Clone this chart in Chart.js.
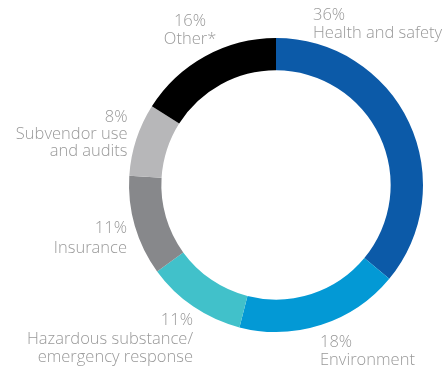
<!DOCTYPE html>
<html>
<head>
<meta charset="utf-8">
<script src="https://cdn.jsdelivr.net/npm/chart.js@4"></script>
<style>
  html, body { margin: 0; padding: 0; background: #fff; }
  #wrap { width: 444px; height: 369px; position: relative; }
</style>
</head>
<body>
<div id="wrap"><canvas id="myDoughnut"></canvas></div>
<script>
// Share of audit findings by category
var categories = [
  ["Health and safety"],
  ["Environment"],
  ["Hazardous substance/", "emergency response"],
  ["Insurance"],
  ["Subvendor use", "and audits"],
  ["Other*"],
];
var shares = [36, 18, 11, 11, 8, 16];
var colors = ["#0C5AA8", "#0399D5", "#41C1CA", "#87888B", "#B7B7B9", "#000000"];

// where each label block sits: anchor x, baselines of each line, alignment
var labelLayout = [
  { x: 313, y: [20, 38], align: "left" },
  { x: 320, y: [346.5, 365], align: "left" },
  { x: 193, y: [325, 343.5, 361.5], align: "right" },
  { x: 127, y: [233, 252.5], align: "right" },
  { x: 127.5, y: [122, 139, 155.5], align: "right" },
  { x: 190, y: [25.5, 44], align: "center" },
];

var sliceLabels = {
  id: "sliceLabels",
  afterDraw: function (chart) {
    var ctx = chart.ctx;
    ctx.save();
    ctx.fillStyle = "#999999";
    ctx.font = "300 16.5px 'Open Sans'";
    ctx.textBaseline = "alphabetic";
    chart.data.datasets[0].data.forEach(function (v, i) {
      var pos = labelLayout[i];
      var lines = [v + "%"].concat(categories[i]);
      ctx.textAlign = pos.align;
      lines.forEach(function (t, j) {
        ctx.fillText(t, pos.x, pos.y[j]);
      });
    });
    ctx.restore();
  },
};

var ctx = document.getElementById("myDoughnut").getContext("2d");
var myDoughnut = new Chart(ctx, {
  type: "doughnut",
  data: {
    labels: categories.map(function (c) { return c.join(" "); }),
    datasets: [
      {
        data: shares,
        backgroundColor: colors,
        borderWidth: 0,
      },
    ],
  },
  options: {
    responsive: true,
    maintainAspectRatio: false,
    animation: false,
    cutout: "78%",
    layout: {
      padding: { left: 129, right: 21, top: 38, bottom: 37 },
    },
    plugins: {
      legend: { display: false },
      tooltip: { enabled: false },
    },
  },
  plugins: [sliceLabels],
});
</script>
</body>
</html>
